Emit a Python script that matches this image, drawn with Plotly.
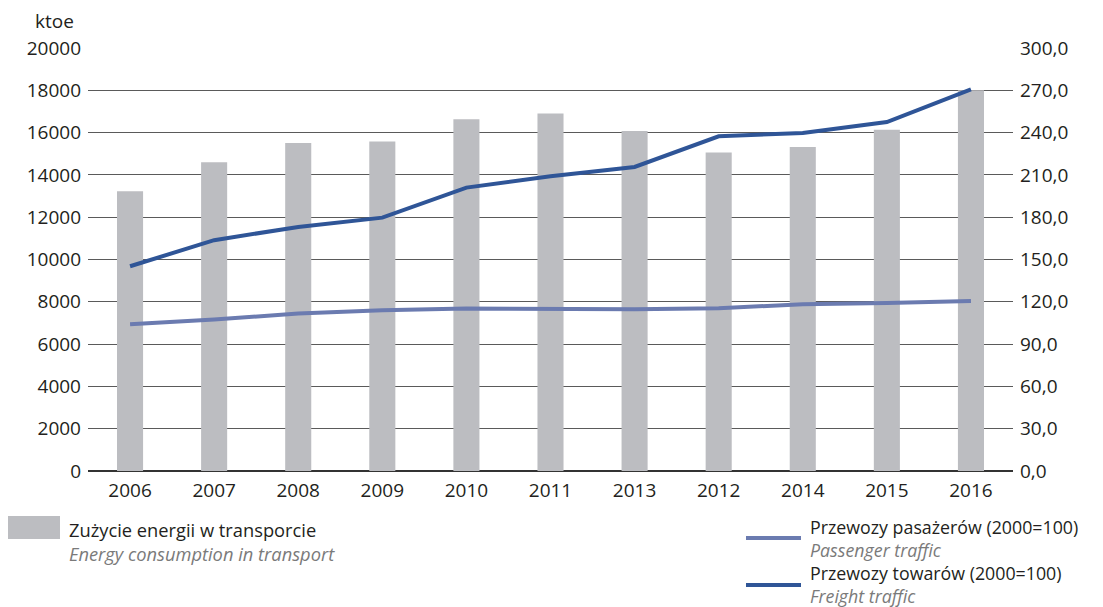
import plotly.graph_objects as go

years = ["2006", "2007", "2008", "2009", "2010", "2011", "2013", "2012", "2014", "2015", "2016"]
energy_ktoe = [13230, 14600, 15510, 15580, 16630, 16900, 16080, 15060, 15320, 16140, 18000]
passenger_idx = [104.1, 107.4, 111.7, 114.0, 115.2, 114.7, 114.7, 115.4, 118.3, 119.2, 120.6]
freight_idx = [145.2, 163.7, 173.1, 179.7, 201.0, 209.0, 215.6, 237.4, 239.7, 247.5, 270.7]

left_ticks = list(range(0, 20001, 2000))
right_ticks = [0, 30, 60, 90, 120, 150, 180, 210, 240, 270, 300]

FONT = "Open Sans"
FS = 19
LFS = 18.3
RFS = 17.8
TXT = "#231f20"
SUB = "#7a7a7a"
BAR = "#bcbdc1"
PASS = "#6b7bb0"
FREIGHT = "#2f5597"

fig = go.Figure()
fig.add_trace(go.Bar(x=years, y=energy_ktoe, marker=dict(color=BAR, line=dict(width=0)),
                     width=0.31, yaxis="y", showlegend=False))
fig.add_trace(go.Scatter(x=years, y=passenger_idx, mode="lines", yaxis="y2",
                         line=dict(color=PASS, width=4), showlegend=False))
fig.add_trace(go.Scatter(x=years, y=freight_idx, mode="lines", yaxis="y2",
                         line=dict(color=FREIGHT, width=4), showlegend=False))

fig.update_layout(
    width=1095, height=599,
    margin=dict(l=80, r=90, t=40, b=136, autoexpand=False),
    paper_bgcolor="white", plot_bgcolor="white",
    separators=",.",
    font=dict(family=FONT, size=FS, color=TXT),
    xaxis=dict(type="category", categoryorder="array", categoryarray=years,
               showgrid=False, showline=False, ticks="", ticklen=0,
               ticklabelstandoff=6,
               tickfont=dict(family=FONT, size=FS, color=TXT)),
    yaxis=dict(range=[0, 20000], tickvals=left_ticks, tickformat="d",
               showgrid=True, gridcolor="#5a5a5a", gridwidth=1,
               zeroline=True, zerolinecolor="#333333", zerolinewidth=1.5,
               showline=False, ticks="", ticklabelstandoff=6,
               tickfont=dict(family=FONT, size=FS, color=TXT)),
    yaxis2=dict(range=[0, 300], tickvals=right_ticks, tickformat=".1f",
                overlaying="y", side="right", showgrid=False, zeroline=False,
                showline=False, ticks="", ticklabelstandoff=6,
                tickfont=dict(family=FONT, size=FS, color=TXT)),
)

# unit label
fig.add_annotation(text="ktoe", xref="paper", yref="paper", x=(33 - 88) / 925, y=1.0,
                   xanchor="left", yanchor="bottom", yshift=12, showarrow=False,
                   font=dict(family=FONT, size=FS, color=TXT))


def legend_text(main, sub):
    return main + "<br><span style='color:" + SUB + "'><i>" + sub + "</i></span>"


# custom legend (page pixel positions converted to paper coords of the plot area)
def px_x(px):
    return (px - 88) / 925


def px_y(py):
    return (471 - py) / 423


fig.add_shape(type="rect", xref="paper", yref="paper",
              x0=px_x(7), x1=px_x(60), y0=px_y(516), y1=px_y(539),
              fillcolor=BAR, line=dict(width=0))
fig.add_annotation(text=legend_text("Zużycie energii w transporcie", "Energy consumption in transport"),
                   xref="paper", yref="paper", x=px_x(68), y=px_y(516),
                   xanchor="left", yanchor="top", align="left", showarrow=False, borderpad=0,
                   font=dict(family=FONT, size=LFS, color=TXT))

for ly, col in [(538, PASS), (585, FREIGHT)]:
    fig.add_shape(type="line", xref="paper", yref="paper",
                  x0=px_x(746), x1=px_x(801), y0=px_y(ly), y1=px_y(ly),
                  line=dict(color=col, width=4))

right_legend = (legend_text("Przewozy pasażerów (2000=100)", "Passenger traffic") + "<br>"
                + legend_text("Przewozy towarów (2000=100)", "Freight traffic"))
fig.add_annotation(text=right_legend, xref="paper", yref="paper",
                   x=px_x(809), y=px_y(514), xanchor="left", yanchor="top", align="left",
                   showarrow=False, borderpad=0,
                   font=dict(family=FONT, size=RFS, color=TXT))

fig.write_html("out.html")
